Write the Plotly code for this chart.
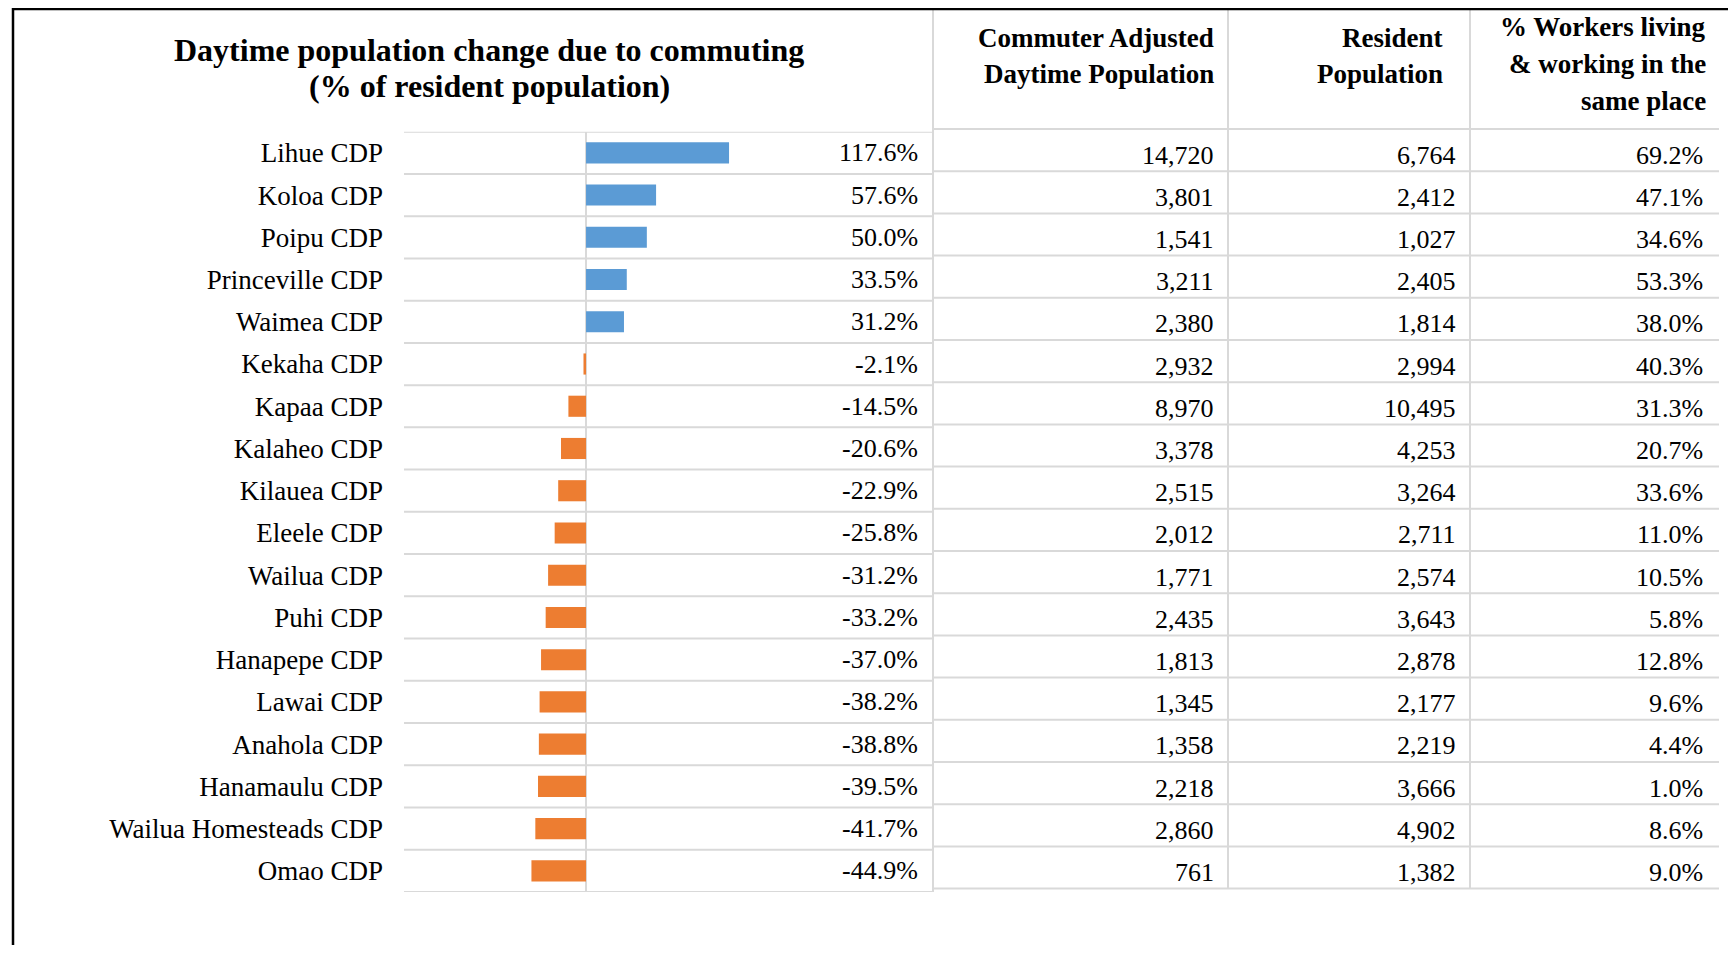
import plotly.graph_objects as go

# ---------------- data ----------------
places = ["Lihue CDP", "Koloa CDP", "Poipu CDP", "Princeville CDP", "Waimea CDP",
          "Kekaha CDP", "Kapaa CDP", "Kalaheo CDP", "Kilauea CDP", "Eleele CDP",
          "Wailua CDP", "Puhi CDP", "Hanapepe CDP", "Lawai CDP", "Anahola CDP",
          "Hanamaulu CDP", "Wailua Homesteads CDP", "Omao CDP"]
change_pct = [117.6, 57.6, 50.0, 33.5, 31.2, -2.1, -14.5, -20.6, -22.9, -25.8,
              -31.2, -33.2, -37.0, -38.2, -38.8, -39.5, -41.7, -44.9]
daytime_pop = [14720, 3801, 1541, 3211, 2380, 2932, 8970, 3378, 2515, 2012,
               1771, 2435, 1813, 1345, 1358, 2218, 2860, 761]
resident_pop = [6764, 2412, 1027, 2405, 1814, 2994, 10495, 4253, 3264, 2711,
                2574, 3643, 2878, 2177, 2219, 3666, 4902, 1382]
same_place_pct = [69.2, 47.1, 34.6, 53.3, 38.0, 40.3, 31.3, 20.7, 33.6, 11.0,
                  10.5, 5.8, 12.8, 9.6, 4.4, 1.0, 8.6, 9.0]

title_lines = ["Daytime population change due to commuting", "(% of resident population)"]
col_headers = [["Commuter Adjusted", "Daytime Population"],
               ["Resident", "Population"],
               ["% Workers living", "& working in the", "same place"]]

# ---------------- layout helpers (page pixels -> paper) ----------------
W, H = 1720, 937
OX, OY = 8, 8
def fx(x):
    return (x - OX) / W
def fy(y):
    return 1 - (y - OY) / H

SERIF = "Liberation Serif, Times New Roman, serif"
GRID = "#D9D9D9"
n = len(places)

fig = go.Figure()
colors = ["#5B9BD5" if v >= 0 else "#ED7D31" for v in change_pct]
fig.add_trace(go.Bar(
    y=places, x=change_pct, orientation="h", width=0.5,
    marker=dict(color=colors, line=dict(width=0)),
    hoverinfo="y+x", showlegend=False,
))

chart_top, chart_bot = 131.7, 892.0
fig.update_layout(
    width=W, height=H,
    margin=dict(l=0, r=0, t=0, b=0),
    paper_bgcolor="white", plot_bgcolor="white",
    xaxis=dict(domain=[fx(404), fx(932)], range=[-149.7, 284.5],
               showticklabels=False, showgrid=False, ticks="",
               zeroline=True, zerolinecolor=GRID, zerolinewidth=2, fixedrange=True),
    yaxis=dict(domain=[fy(chart_bot), fy(chart_top)], type="category",
               range=[n - 0.5, -0.5], showgrid=False, ticks="", zeroline=False,
               tickfont=dict(family=SERIF, size=27, color="#000"),
               ticklabelstandoff=20, fixedrange=True),
    font=dict(family=SERIF, color="#000"),
)

shapes = []
# chart row lines
for i in range(n + 1):
    shapes.append(dict(type="line", xref="paper", yref="y",
                       x0=fx(404), x1=fx(932), y0=i - 0.5, y1=i - 0.5,
                       line=dict(color=GRID, width=2), layer="below"))

# table lines
tab_top, row_h = 129.0, 42.2
for k in range(n + 1):
    yy = tab_top + k * row_h
    shapes.append(dict(type="line", xref="paper", yref="paper",
                       x0=fx(933), x1=fx(1719), y0=fy(yy), y1=fy(yy),
                       line=dict(color=GRID, width=2)))
for xv, yb in [(933, 892), (1228, 889), (1470, 889)]:
    shapes.append(dict(type="line", xref="paper", yref="paper",
                       x0=fx(xv), x1=fx(xv), y0=fy(10), y1=fy(yb),
                       line=dict(color=GRID, width=2)))

# black frame (left and top)
shapes.append(dict(type="line", xref="paper", yref="paper",
                   x0=fx(13), x1=fx(13), y0=fy(8), y1=0,
                   line=dict(color="#000", width=2.5)))
shapes.append(dict(type="line", xref="paper", yref="paper",
                   x0=fx(12), x1=1, y0=fy(9), y1=fy(9),
                   line=dict(color="#000", width=2.5)))

ann = []
# title
for j, (t, yy) in enumerate(zip(title_lines, [50, 86])):
    ann.append(dict(text=f"<b>{t}</b>", xref="paper", yref="paper", x=fx(489), y=fy(yy),
                    xanchor="center", yanchor="middle", showarrow=False,
                    font=dict(family=SERIF, size=32, color="#000")))

# value labels for bars
for i, v in enumerate(change_pct):
    ann.append(dict(text=f"{v:.1f}%", xref="paper", yref="y", x=fx(920), y=i,
                    xanchor="right", yanchor="middle", showarrow=False,
                    font=dict(family=SERIF, size=26, color="#000")))

# table headers
hdr_right = [1216, 1445, 1708]
hdr_y = [[37.6, 74.2], [37.6, 74.2], [26.6, 64.2, 100.7]]
for c, lines in enumerate(col_headers):
    for t, yy in zip(lines, hdr_y[c]):
        ann.append(dict(text=f"<b>{t}</b>", xref="paper", yref="paper",
                        x=fx(hdr_right[c]), y=fy(yy), xanchor="right", yanchor="middle",
                        showarrow=False, font=dict(family=SERIF, size=27, color="#000")))

# table values
val_right = [1216, 1458, 1705]
for i in range(n):
    yy = tab_top + (i + 0.5) * row_h + 5
    cells = [f"{daytime_pop[i]:,}", f"{resident_pop[i]:,}", f"{same_place_pct[i]:.1f}%"]
    for c, t in enumerate(cells):
        ann.append(dict(text=t, xref="paper", yref="paper", x=fx(val_right[c]), y=fy(yy),
                        xanchor="right", yanchor="middle", showarrow=False,
                        font=dict(family=SERIF, size=26, color="#000")))

fig.update_layout(shapes=shapes, annotations=ann)
fig.write_html("out.html")
